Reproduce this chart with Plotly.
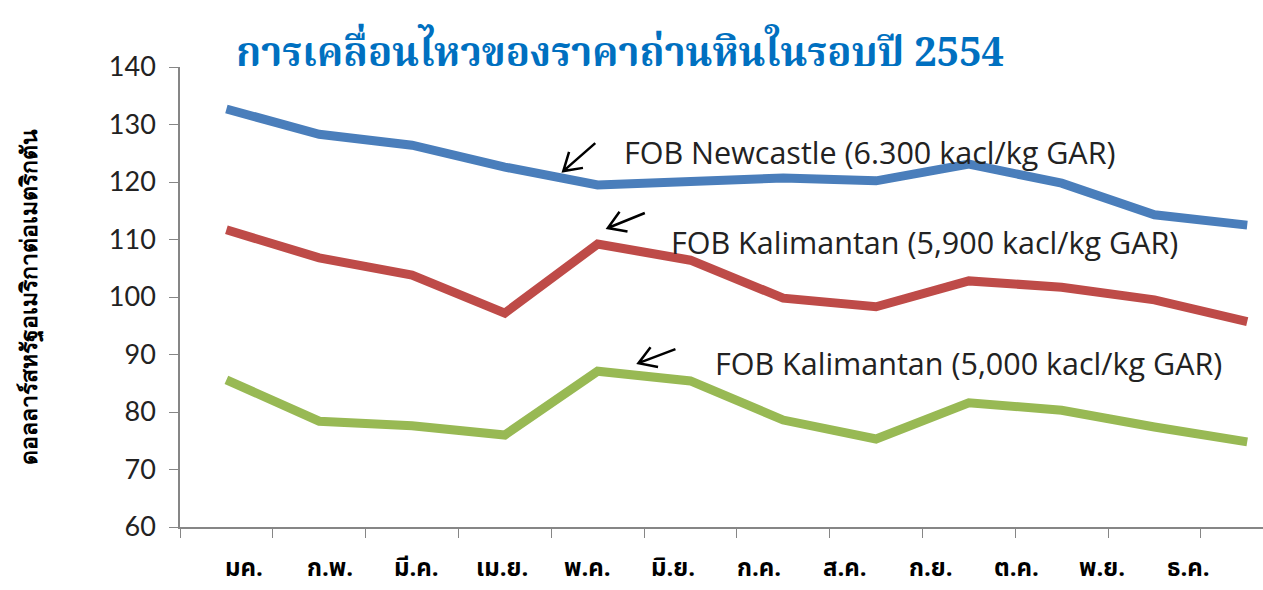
import math
import plotly.graph_objects as go

months = ["มค.", "ก.พ.", "มี.ค.", "เม.ย.", "พ.ค.", "มิ.ย.", "ก.ค.", "ส.ค.", "ก.ย.", "ต.ค.", "พ.ย.", "ธ.ค."]
newcastle_6300 = [132.7, 128.3, 126.4, 122.6, 119.5, 120.0, 120.7, 120.2, 123.1, 119.8, 114.3, 112.5]
kalimantan_5900 = [111.7, 106.8, 103.8, 97.2, 109.2, 106.4, 99.8, 98.3, 102.8, 101.7, 99.5, 95.7]
kalimantan_5000 = [85.6, 78.4, 77.6, 76.0, 87.1, 85.4, 78.6, 75.3, 81.6, 80.3, 77.4, 74.8]
y_ticks = [60, 70, 80, 90, 100, 110, 120, 130, 140]

title = "การเคลื่อนไหวของราคาถ่านหินในรอบปี 2554"
y_title = "ดอลลาร์สหรัฐอเมริกาต่อเมตริกตัน"
labels = ["FOB Newcastle (6.300 kacl/kg GAR)",
          "FOB Kalimantan (5,900 kacl/kg GAR)",
          "FOB Kalimantan (5,000 kacl/kg GAR)"]

fig = go.Figure()
for vals, col in [(newcastle_6300, "#4A7EBB"), (kalimantan_5900, "#BE4B48"), (kalimantan_5000, "#98B954")]:
    fig.add_trace(go.Scatter(x=months, y=vals, mode="lines",
                             line=dict(color=col, width=9), showlegend=False))

# text positions (x, y) and arrow head position with tail offset in pixels
text_pos = [(4.26, 125.2), (4.765, 109.6), (5.24, 88.5)]
arrow_heads = [(3.63, 121.9, 32, 28), (4.11, 112.0, 37, 15), (4.44, 88.5, 37, 14)]

for (tx, ty), txt in zip(text_pos, labels):
    fig.add_annotation(x=tx, y=ty, xref="x", yref="y", text=txt, showarrow=False,
                       xanchor="left", yanchor="middle",
                       font=dict(family="Open Sans, Lato, sans-serif", size=30.5, color="#222222"))

arm = 20
for hx, hy, dx, dy in arrow_heads:
    ang = math.atan2(dy, dx)
    a1 = (arm * math.cos(ang + math.radians(32)), arm * math.sin(ang + math.radians(32)))
    a2 = (arm * math.cos(ang - math.radians(32)), arm * math.sin(ang - math.radians(32)))
    path = (f"M {dx},{dy} L 0,0 M {a1[0]:.1f},{a1[1]:.1f} L 0,0 L {a2[0]:.1f},{a2[1]:.1f}")
    fig.add_shape(type="path", path=path, xref="x", yref="y",
                  xsizemode="pixel", ysizemode="pixel", xanchor=hx, yanchor=hy,
                  line=dict(color="#000000", width=2.5))

# month labels (in the source they drift slightly left of the category centres)
for i, m in enumerate(months):
    fig.add_annotation(x=m, y=0, xref="x", yref="paper", text="<b>" + m + "</b>", showarrow=False,
                       xanchor="center", yanchor="bottom", xshift=18 - 7 * i, yshift=-62,
                       font=dict(size=24, color="#000000", family="Noto Sans Thai, sans-serif"))

fig.add_annotation(x=(28 - 180) / 1083, y=0.5, xref="paper", yref="paper", text="<b>" + y_title + "</b>",
                   textangle=-90, showarrow=False, xanchor="center", yanchor="middle",
                   font=dict(size=23, color="#000000"))

fig.update_layout(
    width=1263, height=590,
    margin=dict(l=180, r=0, t=67, b=63),
    paper_bgcolor="white", plot_bgcolor="white",
    title=dict(text="<b>" + title + "</b>", x=620 / 1263, xanchor="center", y=1 - 52 / 590, yanchor="middle",
               font=dict(family="Noto Serif Thai, Noto Sans Thai, serif", size=40, color="#0070C0")),
    xaxis=dict(type="category", range=[-0.5, 11.17], showgrid=False, showline=True, linecolor="#868686",
               linewidth=1.5, ticks="outside", tickson="boundaries", ticklen=9, tickcolor="#868686",
               showticklabels=False, automargin=False),
    yaxis=dict(range=[60, 140], tickvals=y_ticks, showgrid=False, showline=True, linecolor="#868686",
               linewidth=1.5, ticks="outside", ticklen=9, tickcolor="#868686", zeroline=False,
               ticklabelstandoff=8, automargin=False,
               tickfont=dict(size=27, color="#222222", family="Lato, Open Sans, sans-serif")),
)

fig.write_html("out.html")
